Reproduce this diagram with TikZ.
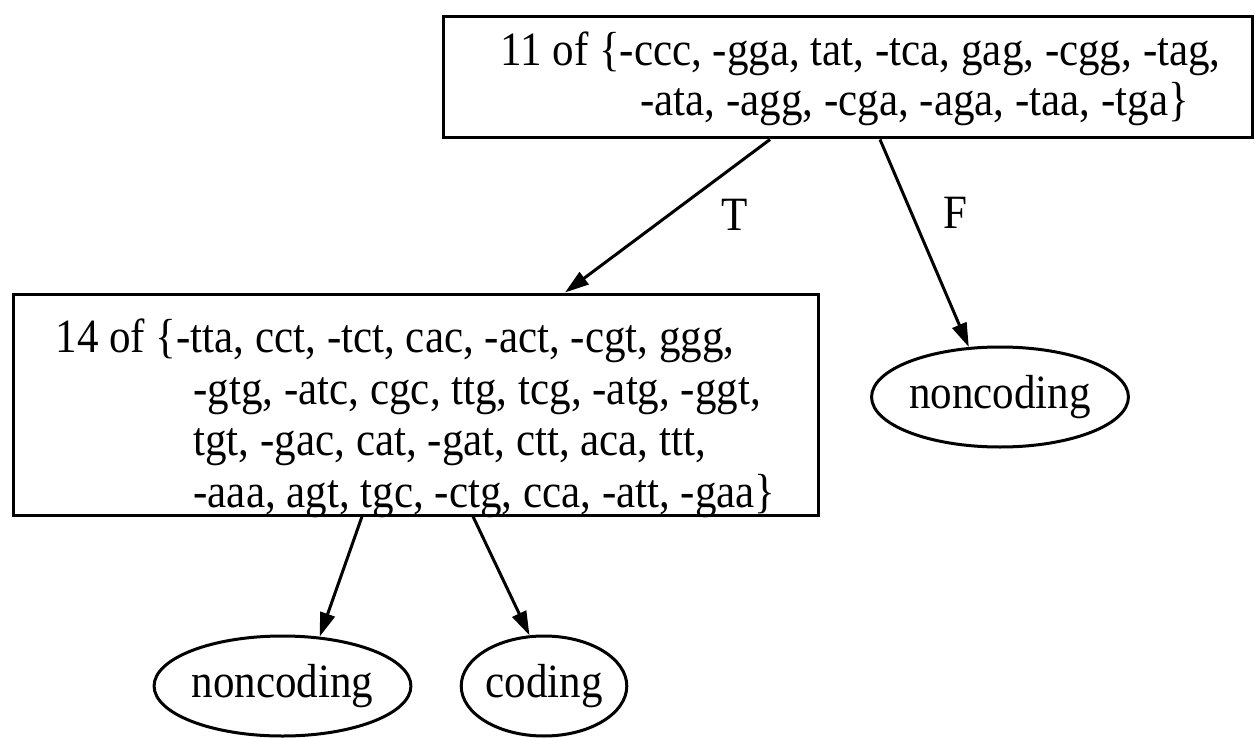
\documentclass[tikz,border=0pt]{standalone}
\usepackage{fontspec}
\setmainfont{Liberation Serif}[FakeStretch=0.9]
\usetikzlibrary{shapes.geometric,arrows.meta}
\begin{document}
\begin{tikzpicture}[x=1pt,y=-1pt,
  every node/.style={font=\fontsize{47.8}{51}\selectfont},
  box/.style={draw, line width=3pt, rectangle, inner sep=0pt},
  leaf/.style={draw, line width=3pt, ellipse, inner sep=0pt,
               minimum width=256pt, minimum height=100pt},
  edge/.style={line width=3pt, -{Triangle[length=24pt,width=15pt]}},
  lbl/.style={inner sep=0pt}]
\useasboundingbox (0,0) rectangle (1255,738);

% decision nodes
\node[box, minimum width=809pt, minimum height=121pt] (top) at (847.5,77.5)
  {\fontsize{47.8}{50}\selectfont
   \raisebox{-3pt}[\height][\depth]{%
   \begin{tabular}{@{}l@{}}
   \hspace*{26pt}11 of \{-ccc, -gga, tat, -tca, gag, -cgg, -tag,\\
   \hspace*{166pt}-ata, -agg, -cga, -aga, -taa, -tga\}
   \end{tabular}}};
\node[box, minimum width=805pt, minimum height=221pt] (mid) at (415.5,404.5)
  {\fontsize{47.8}{51.5}\selectfont
   \raisebox{-15pt}[\height][\depth]{%
   \begin{tabular}{@{}l@{}}
   14 of \{-tta, cct, -tct, cac, -act, -cgt, ggg,\\
   \hspace*{138pt}-gtg, -atc, cgc, ttg, tcg, -atg, -ggt,\\
   \hspace*{138pt}tgt, -gac, cat, -gat, ctt, aca, ttt,\\
   \hspace*{138pt}-aaa, agt, tgc, -ctg, cca, -att, -gaa\}
   \end{tabular}}};

% leaves
\node[leaf] (nc1) at (1000,397) {noncoding};
\node[leaf] (nc2) at (282.5,686) {noncoding};
\node[leaf, minimum width=162pt] (cod) at (544,686) {coding};

% branch labels
\node[lbl] (lt) at (735,215) {T};
\node[lbl] (lf) at (955,213) {F};

% edges
\draw[edge] ([xshift=-77.5pt]top.south) -- ([xshift=149.5pt]mid.north);
\draw[edge] ([xshift=32.5pt]top.south) -- (nc1.122);
\draw[edge] ([xshift=-53.5pt]mid.south) -- (nc2.53);
\draw[edge] ([xshift=57.5pt]mid.south) -- (cod.106);
\end{tikzpicture}
\end{document}
